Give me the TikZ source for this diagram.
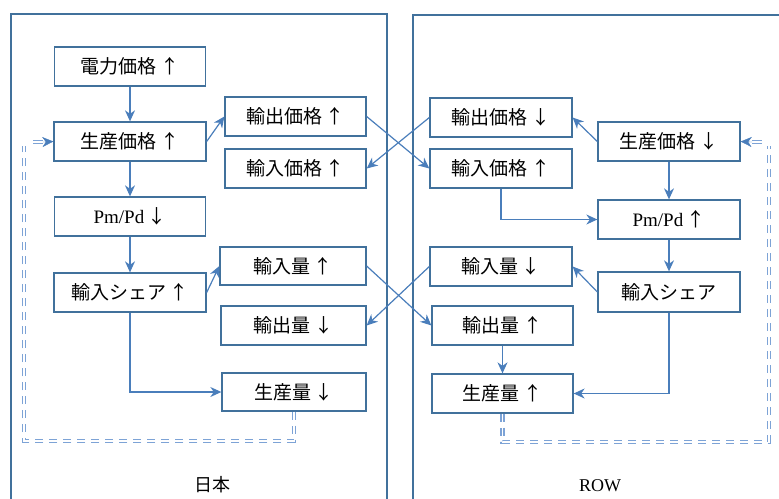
\documentclass[tikz,border=0pt]{standalone}
\usepackage{fontspec}
\setmainfont{Liberation Serif}
\newfontfamily\jp{Noto Sans CJK JP}
\usetikzlibrary{arrows.meta,calc}
\definecolor{bx}{HTML}{41719C}
\definecolor{ar}{HTML}{4A7EBB}
\definecolor{dsh}{HTML}{7DA3D6}
\newcommand{\UP}{{\jp\,↑}}
\newcommand{\DN}{{\jp\,↓}}
\tikzset{
  box/.style={draw=bx, line width=1.3pt, minimum height=39pt, inner sep=0pt, fill=white,
    font=\jp\fontsize{19}{22}\selectfont},
  conn/.style={draw=ar, line width=1.2pt, -{Stealth[length=11pt,width=10pt,inset=3.5pt]}},
  dbl/.style={draw=dsh, line width=1.2pt, double=white, double distance=1.8pt, dash pattern=on 8pt off 6pt},
  dblsolid/.style={draw=dsh, line width=1.2pt, double=white, double distance=1.8pt},
  tip/.style={draw=ar, line width=0.3pt, -{Stealth[length=11pt,width=10pt,inset=3.5pt]}},
  panel/.style={draw=bx, line width=1.2pt}
}
\begin{document}
\begin{tikzpicture}[x=1pt,y=-1pt]
\useasboundingbox (0,0) rectangle (779,498);
% panels
\draw[panel] (11,520) -- (11,14) -- (387,14) -- (387,520);
\draw[panel] (413,520) -- (413,15) -- (790,15);
% left boxes
\node[box, minimum width=151pt] (ep)  at (130,66.5)  {電力価格\UP};
\node[box, minimum width=152pt] (gpL) at (130,141.5) {生産価格\UP};
\node[box, minimum width=151pt] (pmL) at (130,216.5) {\rmfamily\fontsize{19}{22}\selectfont Pm/Pd\DN};
\node[box, minimum width=152pt] (shL) at (130,292.5) {輸入シェア\UP};
\node[box, minimum width=141pt] (exL) at (295.5,116.5) {輸出価格\UP};
\node[box, minimum width=141pt] (imL) at (295.5,168.5) {輸入価格\UP};
\node[box, minimum width=146pt, minimum height=38pt] (iqL) at (293,266) {輸入量\UP};
\node[box, minimum width=145pt] (eqL) at (293.5,325.5) {輸出量\DN};
\node[box, minimum width=144pt, minimum height=38pt] (prL) at (294,392) {生産量\DN};
% right boxes
\node[box, minimum width=142pt] (exR) at (501,117.5) {輸出価格\DN};
\node[box, minimum width=142pt] (imR) at (501,168.5) {輸入価格\UP};
\node[box, minimum width=142pt] (gpR) at (669,141.5) {生産価格\DN};
\node[box, minimum width=142pt] (pmR) at (669,219.5) {\rmfamily\fontsize{19}{22}\selectfont Pm/Pd\UP};
\node[box, minimum width=142pt, minimum height=40pt] (shR) at (669,292) {輸入シェア};
\node[box, minimum width=142pt] (iqR) at (501,266.5) {輸入量\DN};
\node[box, minimum width=141pt] (eqR) at (502.5,325.5) {輸出量\UP};
\node[box, minimum width=141pt] (prR) at (502.5,393.5) {生産量\UP};
% labels
\node[font=\jp\fontsize{18}{20}\selectfont] (jpn) at (212,485) {日本};
\node[font=\fontsize{18}{20}\selectfont] (row) at (600,486) {ROW};
% left connectors
\draw[conn] (ep.south) -- (gpL.north);
\draw[conn] (gpL.south) -- (pmL.north);
\draw[conn] (pmL.south) -- (shL.north);
\draw[conn] (gpL.east) -- (exL.west);
\draw[conn] (shL.east) -- (iqL.west);
\draw[conn] (shL.south) |- (prL.west);
% crossings
\draw[conn] (exL.east) -- (imR.west);
\draw[conn] (exR.west) -- (imL.east);
\draw[conn] (iqL.east) -- (eqR.west);
\draw[conn] (iqR.west) -- (eqL.east);
% right connectors
\draw[conn] (gpR.west) -- (exR.east);
\draw[conn] (gpR.south) -- (pmR.north);
\draw[conn] (imR.south) |- (pmR.west);
\draw[conn] (pmR.south) -- (shR.north);
\draw[conn] (shR.west) -- (iqR.east);
\draw[conn] (shR.south) |- (prR.east);
\draw[conn] (eqR.south) -- (prR.north);
% feedback loops left
\coordinate (cL1) at (24,441);
\coordinate (cL2) at (24,146);
\coordinate (aL) at (33,142);
\coordinate (aLt) at (43,142);
\draw[dbl] (prL.south) -- (prL.south |- cL1) -- (cL1) -- (cL2);
\draw[dblsolid] (aL) -- (aLt);
\draw[tip] (aLt) -- (gpL.west);
% feedback loops right
\coordinate (cR1) at (769,442);
\coordinate (cR2) at (769,146);
\coordinate (aR) at (762,142);
\coordinate (aRt) at (752,142);
\draw[dbl] (prR.south) -- (prR.south |- cR1) -- (cR1) -- (cR2);
\draw[dblsolid] (aR) -- (aRt);
\draw[tip] (aRt) -- (gpR.east);
\end{tikzpicture}
\end{document}
